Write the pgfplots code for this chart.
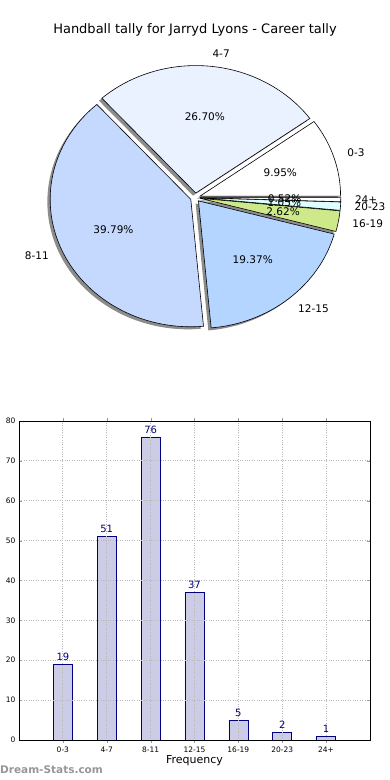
\documentclass[border=0pt]{standalone}
\usepackage{pgfplots}
\pgfplotsset{compat=1.18}
\usepackage{fontspec}
\setmainfont{DejaVu Sans}
\usetikzlibrary{calc}
\pgfkeys{/pgf/number format/assume math mode=true}
\definecolor{c1}{RGB}{255,255,255}
\definecolor{c2}{RGB}{234,241,255}
\definecolor{c3}{RGB}{197,217,255}
\definecolor{c4}{RGB}{179,213,255}
\definecolor{c5}{RGB}{205,233,138}
\definecolor{c6}{RGB}{221,255,255}
\definecolor{c7}{RGB}{255,255,255}
\definecolor{barfill}{RGB}{204,204,230}
\definecolor{navyc}{RGB}{0,0,128}
\definecolor{wm}{RGB}{150,150,150}
% counts / label / colour
\newcommand\piedata{19/0-3/c1, 51/4-7/c2, 76/8-11/c3, 37/12-15/c4, 5/16-19/c5, 2/20-23/c6, 1/24+/c7}
\newcommand\pietotal{191}
\begin{document}
\begin{tikzpicture}
\path[use as bounding box] (0pt,0pt) rectangle (390pt,-780pt);
\node at (195pt,-30pt) {\fontsize{13}{15}\selectfont Handball tally for Jarryd Lyons - Career tally};
% ---------------- pie ----------------
\begin{axis}[at={(195.3pt,-197.5pt)}, anchor=origin, scale only axis, hide axis, clip=false,
  width=365.6pt, height=331.5pt, xmin=-1.3, xmax=1.3, ymin=-1.3, ymax=1.3]
\addplot[draw=none, forget plot] coordinates {(0,0)};
\pgfplotsextra{
  \coordinate (O) at (axis cs:0,0);
  % shadows
  \xdef\cum{0}
  \foreach \v/\lab/\col in \piedata {
    \pgfmathsetmacro\a{\cum/\pietotal*360}
    \pgfmathsetmacro\b{(\cum+\v)/\pietotal*360}
    \pgfmathsetmacro\m{(\a+\b)/2}
    \fill[black!45] ($(O)+(\m:4.92pt and 4.46pt)+(221.8:3.8pt)$) -- ++(\a:140.6pt and 127.5pt)
       arc[start angle=\a, end angle=\b, x radius=140.6pt, y radius=127.5pt] -- cycle;
    \pgfmathsetmacro\nc{\cum+\v}
    \xdef\cum{\nc}
  }
  % wedges
  \xdef\cum{0}
  \foreach \v/\lab/\col in \piedata {
    \pgfmathsetmacro\a{\cum/\pietotal*360}
    \pgfmathsetmacro\b{(\cum+\v)/\pietotal*360}
    \pgfmathsetmacro\m{(\a+\b)/2}
    \filldraw[fill=\col, draw=black, line width=0.6pt, line join=miter] ($(O)+(\m:4.92pt and 4.46pt)$) -- ++(\a:140.6pt and 127.5pt)
       arc[start angle=\a, end angle=\b, x radius=140.6pt, y radius=127.5pt] -- cycle;
    \pgfmathsetmacro\nc{\cum+\v}
    \xdef\cum{\nc}
  }
  % labels
  \xdef\cum{0}
  \foreach \v/\lab/\col in \piedata {
    \pgfmathsetmacro\a{\cum/\pietotal*360}
    \pgfmathsetmacro\b{(\cum+\v)/\pietotal*360}
    \pgfmathsetmacro\m{(\a+\b)/2}
    \pgfmathsetmacro\cm{cos(\m)}
    \ifdim\cm pt>0pt \def\anc{west}\else\def\anc{east}\fi
    \node[anchor=\anc, inner sep=0pt] at ($(O)+(\m:4.92pt and 4.46pt)+(\m:154.66pt and 140.25pt)$) {\fontsize{10.5}{12}\selectfont \lab};
    \pgfmathsetmacro\pc{\v*100/\pietotal}
    \node[inner sep=0pt] at ($(O)+(\m:4.92pt and 4.46pt)+(\m:84.36pt and 76.5pt)$) {\fontsize{10.5}{12}\selectfont \pgfmathprintnumber[fixed,fixed zerofill,precision=2]{\pc}\%};
    \pgfmathsetmacro\nc{\cum+\v}
    \xdef\cum{\nc}
  }
}
\end{axis}
% ---------------- bars ----------------
\begin{axis}[at={(19pt,-740pt)}, anchor=south west, scale only axis,
  width=351pt, height=319pt, xmin=-1, xmax=7, ymin=0, ymax=80,
  ytick={0,10,...,80}, xtick={0,1,2,3,4,5,6},
  xticklabels={0-3,4-7,8-11,12-15,16-19,20-23,24+},
  ticklabel style={font=\fontsize{7.5}{8}\selectfont},
  xlabel={Frequency}, xlabel style={font=\fontsize{11}{13}\selectfont, at={(axis description cs:0.5,0)}, anchor=north, inner sep=0pt, yshift=-15.5pt},
  grid=major, major grid style={dotted, black!28, line width=0.8pt},
  tick align=inside, tick pos=both, major tick length=3pt,
  tick style={black!40}, axis line style={black, line width=0.7pt},
  axis on top,
  ybar, bar width=19pt,
  nodes near coords,
  every node near coord/.append style={font=\fontsize{10}{11}\selectfont, color=navyc, inner sep=3.5pt},
  ]
\addplot[fill=barfill, draw=navyc, line width=0.6pt] coordinates {(0,19) (1,51) (2,76) (3,37) (4,5) (5,2) (6,1)};
\end{axis}
\node[anchor=west, inner sep=0pt, text=wm] at (0pt,-770pt) {\fontsize{10.5}{12}\selectfont\bfseries Dream-Stats.com};
\end{tikzpicture}
\end{document}
